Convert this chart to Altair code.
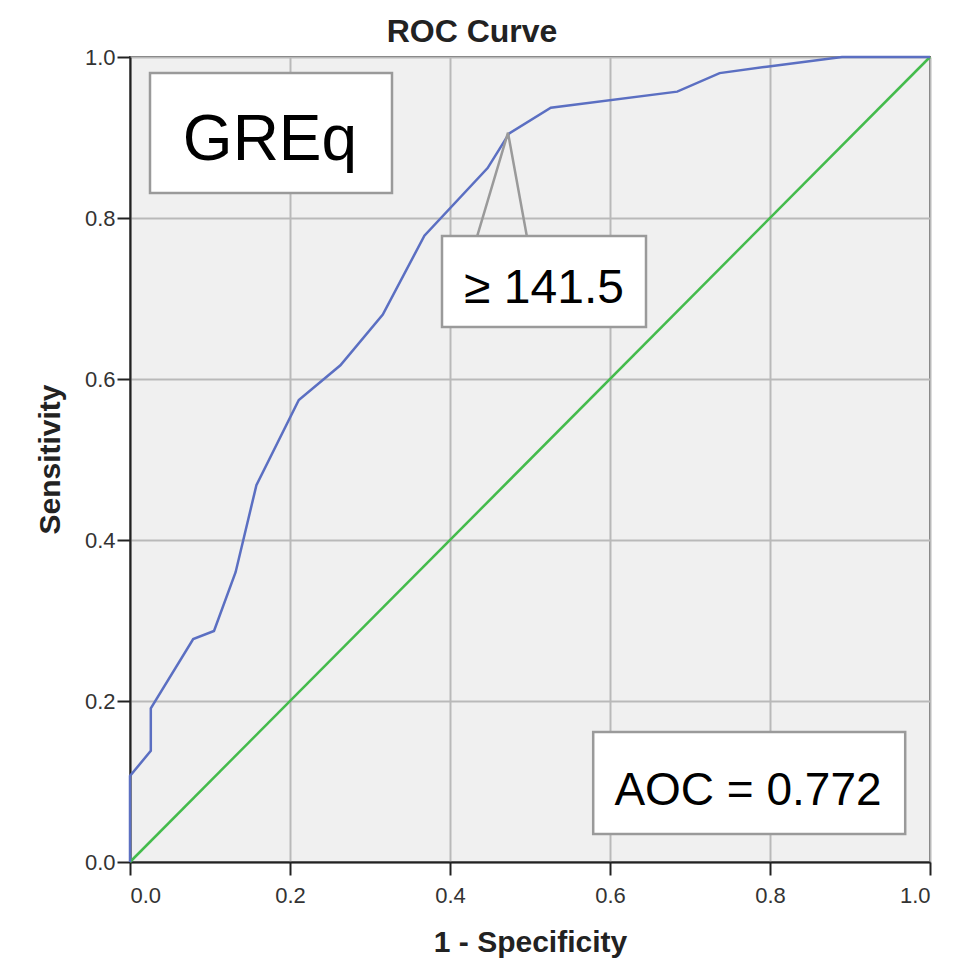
import altair as alt
import pandas as pd

# ROC curve points (1 - specificity, sensitivity)
fpr = [0.0, 0.0, 0.026, 0.026, 0.079, 0.105, 0.132, 0.158, 0.211, 0.263,
       0.316, 0.368, 0.447, 0.474, 0.526, 0.684, 0.737, 0.796, 0.89, 1.0]
tpr = [0.0, 0.107, 0.138, 0.191, 0.277, 0.287, 0.36, 0.468, 0.574, 0.617,
       0.68, 0.778, 0.862, 0.905, 0.937, 0.957, 0.98, 0.988, 1.0, 1.0]

# reference diagonal
diag_x = [0.0, 1.0]
diag_y = [0.0, 1.0]

tick_values = [0.0, 0.2, 0.4, 0.6, 0.8, 1.0]

title_text = "ROC Curve"
x_title = "1 - Specificity"
y_title = "Sensitivity"

# annotation texts
label_texts = ["GREq", "\u2265 141.5", "AOC = 0.772"]
label_x = [0.175, 0.5175, 0.7725]
label_y = [0.872, 0.694, 0.0708]
label_size = [64, 48, 46]

# annotation boxes
box_x1 = [0.025, 0.39, 0.579]
box_x2 = [0.3275, 0.645, 0.969]
box_y1 = [0.831, 0.6646, 0.0348]
box_y2 = [0.980, 0.7776, 0.1615]

# callout pointer
pointer_x = [0.434, 0.4725, 0.496]
pointer_y = [0.7776, 0.906, 0.7776]
pointer_base = [0.7715, 0.7715, 0.7715]

roc_df = pd.DataFrame({"x": fpr, "y": tpr, "i": list(range(len(fpr)))})
diag_df = pd.DataFrame({"x": diag_x, "y": diag_y})
lab_df = pd.DataFrame({"x": label_x, "y": label_y, "t": label_texts, "s": label_size})
box_df = pd.DataFrame({"x": box_x1, "x2": box_x2, "y": box_y1, "y2": box_y2})
ptr_df = pd.DataFrame({"x": pointer_x, "y": pointer_y, "y2": pointer_base,
                       "i": list(range(len(pointer_x)))})

FONT = "Liberation Sans, Arial, sans-serif"

xscale = alt.Scale(domain=[0, 1], nice=False, zero=True)
yscale = alt.Scale(domain=[0, 1], nice=False, zero=True)

xaxis = alt.Axis(values=tick_values, format=".1f", title=x_title,
                 tickSize=13, labelPadding=10, titleX=400, titleY=89,
                 titleBaseline="alphabetic")
yaxis = alt.Axis(values=tick_values, format=".1f", title=y_title,
                 tickSize=13, labelPadding=2, titleX=-80, titleY=402,
                 titleAngle=270, titleBaseline="middle")


def X(f="x"):
    return alt.X(f"{f}:Q", scale=xscale, axis=xaxis)


def Y(f="y"):
    return alt.Y(f"{f}:Q", scale=yscale, axis=yaxis)


diag = alt.Chart(diag_df).mark_line(color="#44bb4c", strokeWidth=2.5).encode(x=X(), y=Y())
roc = alt.Chart(roc_df).mark_line(color="#5b6fc2", strokeWidth=2.5).encode(
    x=X(), y=Y(), order="i:Q")

boxes = alt.Chart(box_df).mark_rect(fill="white", stroke="#9a9a9a", strokeWidth=2.5).encode(
    x=X(), x2="x2:Q", y=Y(), y2="y2:Q")

ptr_fill = alt.Chart(ptr_df).mark_area(fill="white", opacity=1).encode(
    x=X(), y=Y(), y2="y2:Q", order="i:Q")
ptr_line = alt.Chart(ptr_df).mark_line(color="#9a9a9a", strokeWidth=2.5).encode(
    x=X(), y=Y(), order="i:Q")

texts = alt.Chart(lab_df).mark_text(font=FONT, color="black", align="center",
                                    baseline="alphabetic").encode(
    x=X(), y=Y(), text="t:N", size=alt.Size("s:Q", scale=None, legend=None))

chart = alt.layer(diag, roc, boxes, ptr_fill, ptr_line, texts).properties(
    width=800, height=805,
    autosize=alt.AutoSizeParams(type="none"),
    padding={"left": 122, "top": 49, "right": 30, "bottom": 99},
    title=alt.TitleParams(text=title_text, font=FONT, fontSize=32, fontWeight="bold",
                          color="#222222", dx=-58, dy=15, offset=12, anchor="middle"),
).configure_view(
    fill="#f0f0f0", stroke="#5a5a5a", strokeWidth=2
).configure_axis(
    grid=True, gridColor="#b9b9b9", gridWidth=2,
    domainColor="#222222", domainWidth=2, tickColor="#222222", tickWidth=2,
    labelFont=FONT, labelFontSize=22, labelColor="#333333",
    titleFont=FONT, titleFontSize=30, titleFontWeight="bold", titleColor="#222222",
)

chart.save("out.html", embed_options={"renderer": "svg", "actions": False})
